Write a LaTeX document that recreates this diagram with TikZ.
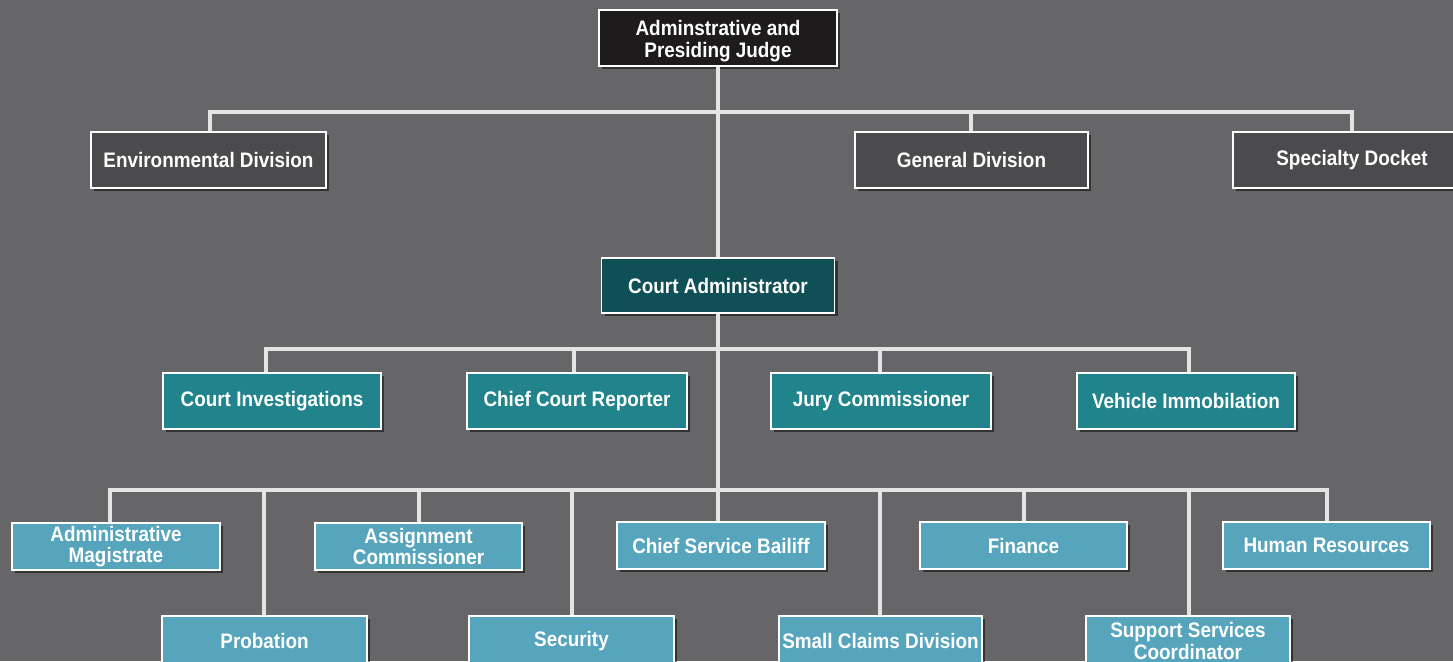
\documentclass[tikz,border=0pt]{standalone}
\usepackage{fontspec}
\setmainfont[FakeStretch=0.9]{Liberation Sans}
\usetikzlibrary{shadows}
\definecolor{bg}{HTML}{666668}
\definecolor{cblack}{HTML}{1E1B1C}
\definecolor{cgray}{HTML}{4B4B4D}
\definecolor{cdteal}{HTML}{0F5057}
\definecolor{cteal}{HTML}{21838B}
\definecolor{clblue}{HTML}{56A5BC}
\definecolor{cline}{HTML}{E4E4E4}
\begin{document}
\begin{tikzpicture}[x=1pt,y=-1pt,
  box/.style={draw=white, line width=1.3pt, text=white,
    font=\bfseries\fontsize{21}{21.5}\selectfont, align=center, inner sep=0pt,
    drop shadow={shadow xshift=3pt,shadow yshift=-3pt,fill=black,opacity=0.5}},
  toplevel/.style={box, fill=cblack, minimum height=56pt},
  division/.style={box, fill=cgray, minimum height=56pt},
  admin/.style={box, fill=cdteal, minimum height=55pt},
  unit/.style={box, fill=cteal, minimum height=56pt},
  office/.style={box, fill=clblue, minimum height=47pt},
  lowoffice/.style={box, fill=clblue, minimum height=50pt},
  conn/.style={draw=cline, line width=4pt}
]
\fill[bg] (0,0) rectangle (1453,661);
\useasboundingbox (0,0) rectangle (1453,661);

% junction points
\coordinate (j1) at (718,112);
\coordinate (j2) at (718,349);
\coordinate (j3) at (718,490);

% nodes
\node[toplevel, minimum width=238pt] (top) at (718,38) {\raisebox{-9pt}[0pt][0pt]{\begin{tabular}{@{}c@{}}Adminstrative and\\Presiding Judge\end{tabular}}};
\node[division, minimum width=235pt] (env) at (208.5,160) {Environmental Division};
\node[division, minimum width=233pt] (gen) at (971.5,160) {General Division};
\node[division, minimum width=238pt] (spec) at (1352,160) {Specialty Docket};

\node[admin, minimum width=233pt] (ca) at (718,285.5) {Court Administrator};

\node[unit, minimum width=218pt] (ci) at (272,401) {Court Investigations};
\node[unit, minimum width=220pt] (ccr) at (577,401) {Chief Court Reporter};
\node[unit, minimum width=220pt] (jc) at (881,401) {Jury Commissioner};
\node[unit, minimum width=218pt] (vi) at (1186,401) {Vehicle Immobilation};

\node[office, minimum width=208pt] (am) at (116,546.5) {Administrative\\Magistrate};
\node[office, minimum width=207pt] (ac) at (418.5,546.5) {Assignment\\Commissioner};
\node[office, minimum width=208pt] (csb) at (721,545.5) {Chief Service Bailiff};
\node[office, minimum width=207pt] (fin) at (1023.5,545.5) {Finance};
\node[office, minimum width=207pt] (hr) at (1326.5,545.5) {Human Resources};

\node[lowoffice, minimum width=205pt] (prob) at (264.5,641) {Probation};
\node[lowoffice, minimum width=205pt] (sec) at (571.5,641) {Security};
\node[lowoffice, minimum width=203pt] (scd) at (880.5,641) {Small Claims Division};
\node[lowoffice, minimum width=204pt] (ssc) at (1188,641) {Support Services\\Coordinator};

% connector lines
\draw[conn] ([xshift=1.5pt]env.north) |- (j1) -| (spec.north);
\draw[conn] ([xshift=-0.5pt]gen.north) |- (j1);
\draw[conn] (top.south) -- (ca.north);
\draw[conn] (ca.south) -- (j3);

\draw[conn] ([xshift=-6pt]ci.north) |- (j2) -| ([xshift=3pt]vi.north);
\draw[conn] ([xshift=-3pt]ccr.north) |- (j2);
\draw[conn] ([xshift=-1pt]jc.north) |- (j2);

\draw[conn] ([xshift=-6pt]am.north) |- (j3) -| ([xshift=0.5pt]hr.north);
\draw[conn] ([xshift=-0.5pt]prob.north) |- (j3);
\draw[conn] ([xshift=0.5pt]ac.north) |- (j3);
\draw[conn] ([xshift=0.5pt]sec.north) |- (j3);
\draw[conn] ([xshift=-3pt]csb.north) |- (j3);
\draw[conn] ([xshift=-0.5pt]scd.north) |- (j3);
\draw[conn] ([xshift=0.5pt]fin.north) |- (j3);
\draw[conn] ([xshift=1pt]ssc.north) |- (j3);
\end{tikzpicture}
\end{document}
